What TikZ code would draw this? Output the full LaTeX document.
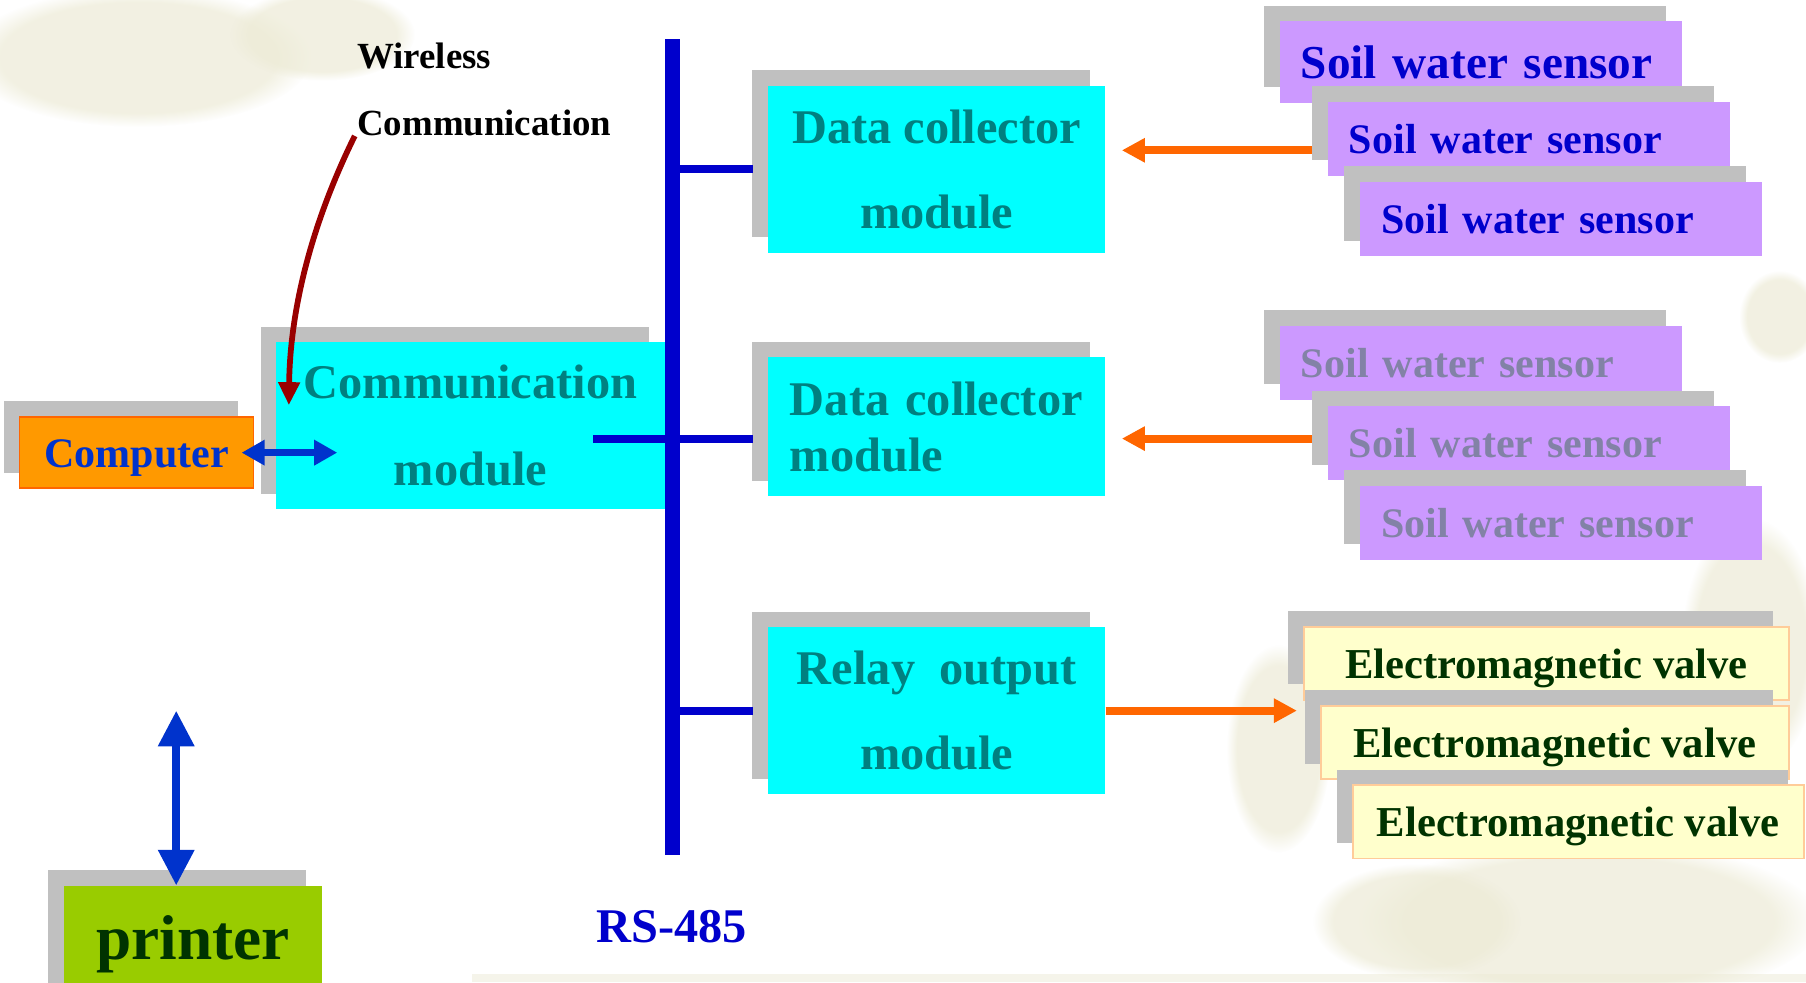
\documentclass[tikz,border=0pt]{standalone}
\usepackage{fontspec}
\setmainfont{Liberation Serif}
\usetikzlibrary{arrows.meta, shadows, fadings}

\definecolor{modcyan}{HTML}{00FFFF}
\definecolor{modtext}{HTML}{008080}
\definecolor{shadegray}{HTML}{C0C0C0}
\definecolor{sensorfill}{HTML}{CC99FF}
\definecolor{sensortext}{HTML}{0000CC}
\definecolor{sensordim}{HTML}{8282A6}
\definecolor{busblue}{HTML}{0000CC}
\definecolor{linkblue}{HTML}{0033CC}
\definecolor{feedorange}{HTML}{FF6600}
\definecolor{pcfill}{HTML}{FF9900}
\definecolor{printfill}{HTML}{99CC00}
\definecolor{darkgreen}{HTML}{003300}
\definecolor{valvefill}{HTML}{FFFFCC}
\definecolor{valveline}{HTML}{FFCC99}
\definecolor{radiored}{HTML}{990000}
\definecolor{bgtint}{HTML}{EDEBD6}

\begin{document}
\begin{tikzpicture}[
        x=1pt, y=-1pt,
        box/.style={rectangle, inner sep=0pt, general shadow={fill=shadegray, shadow xshift=-13.5pt, shadow yshift=13.5pt}},
        module/.style={box, fill=modcyan, text=modtext, align=center, minimum width=293pt, minimum height=145pt, font=\fontsize{42}{74}\selectfont\bfseries},
        sensor/.style={box, fill=sensorfill, text=sensortext, minimum height=64.5pt, inner xsep=18.5pt, text width=312pt, align=left, text height=25.5pt, text depth=0pt, font=\fontsize{36.5}{44}\selectfont\bfseries},
        valve/.style={box, fill=valvefill, draw=valveline, line width=1.5pt, text=darkgreen, minimum height=63.5pt, text height=25.5pt, text depth=0pt, font=\fontsize{37}{44}\selectfont\bfseries},
        note/.style={align=left, inner sep=0pt, text=black, font=\fontsize{32}{58}\selectfont\bfseries},
        busname/.style={fill=white, text=busblue, inner xsep=38pt, inner ysep=0pt, text width=500pt, align=left, minimum height=61pt, text height=42pt, text depth=0pt, font=\fontsize{42}{50}\selectfont\bfseries},
        bus/.style={busblue, line width=12.5pt},
        branch/.style={busblue, line width=7pt},
        feed/.style={feedorange, line width=7pt, -{Triangle[length=20pt, width=20pt]}},
        duplex/.style={linkblue, line width=6pt, {Triangle[length=20pt, width=21pt]}-{Triangle[length=20pt, width=21pt]}},
        spool/.style={linkblue, line width=7pt, {Triangle[length=31pt, width=30pt]}-{Triangle[length=31pt, width=30pt]}},
        radio/.style={radiored, line width=5pt, -{Triangle[length=20pt, width=18pt]}},
        blob/.style={bgtint, opacity=0.7, path fading=circle with fuzzy edge 20 percent}
    ]
    \useasboundingbox (0,0) rectangle (1568,853);
    \clip (0,0) rectangle (1568,853);
    \fill[white] (0,0) rectangle (1568,853);
    \fill[blob] (120,50) ellipse (150pt and 60pt);
    \fill[blob] (280,30) ellipse (80pt and 40pt);
    \fill[blob] (1380,800) ellipse (200pt and 70pt);
    \fill[blob] (1520,560) ellipse (60pt and 110pt);
    \fill[blob] (1110,650) ellipse (45pt and 90pt);
    \fill[blob] (1230,800) ellipse (90pt and 50pt);
    \fill[blob] (1545,275) ellipse (35pt and 40pt);
    \fill[bgtint, opacity=0.5] (410,846) rectangle (1568,853);

    \node[busname] (rs485) at (768,797.5) {RS-485};

    \node[box, fill=pcfill, draw=feedorange, line width=1.5pt, text=linkblue, minimum width=203pt, minimum height=62pt, text height=25pt, text depth=0pt, font=\fontsize{36.5}{44}\selectfont\bfseries] (computer) at (118.5,393) {Computer};
    \node[module, minimum width=337pt, font=\fontsize{42}{75}\selectfont\bfseries] (comm) at (408.5,369.5) {Communication\\module};
    \node[box, fill=printfill, text=darkgreen, minimum width=224pt, minimum height=101pt, font=\fontsize{55}{60}\selectfont\bfseries] (printer) at (167.4,819.5) {printer};
    \node[note, anchor=south west] (wireless) at (310,118) {Wireless\\Communication};

    \node[module] (dc1) at (813.3,147) {Data collector\\module};
    \node[module, minimum height=121pt, text width=255pt, align=left, font=\fontsize{42}{49}\selectfont\bfseries] (dc2) at (813.3,370.5) {Data collector\\module};
    \node[module] (relay) at (813.3,617) {Relay~~output\\module};

    \node[sensor, minimum height=70.4pt, text height=29pt, font=\fontsize{41}{50}\selectfont\bfseries] (s1) at (1285.5,53.8) {Soil water sensor};
    \node[sensor] (s2) at (1327.2,120.5) {Soil water sensor};
    \node[sensor] (s3) at (1355,190.3) {Soil water sensor};
    \node[sensor, text=sensordim] (s4) at (1285.5,315) {Soil water sensor};
    \node[sensor, text=sensordim] (s5) at (1327.2,384.8) {Soil water sensor};
    \node[sensor, text=sensordim] (s6) at (1355,453.9) {Soil water sensor};

    \node[valve, minimum width=421.3pt] (v1) at (1342.6,575.9) {Electromagnetic valve};
    \node[valve, minimum width=406.5pt] (v2) at (1350,644.7) {Electromagnetic valve};
    \node[valve, minimum width=391.5pt] (v3) at (1370.2,713.6) {Electromagnetic valve};

    \coordinate (bustop) at (584,34);
    \coordinate (busend) at (584,742);
    \coordinate (tap) at (515,381);
    \draw[branch, shorten >=13pt] (tap) -- (tap -| dc2.west);
    \draw[branch, shorten >=13pt] (bustop |- dc1.west) -- (dc1.west);
    \draw[branch, shorten >=13pt] (bustop |- relay.west) -- (relay.west);
    \draw[bus] (bustop) -- (busend);

    \coordinate (in1) at ([xshift=-13.5pt,yshift=-10pt]s2.west);
    \coordinate (in2) at ([xshift=-13.5pt,yshift=4pt]s5.west);
    \draw[feed, shorten >=14pt] (in1) -- (in1 -| dc1.east);
    \draw[feed, shorten >=14pt] (in2) -- (in2 -| dc2.east);
    \draw[feed, shorten >=20pt] (relay.east) -- (relay.east -| v2.west);

    \coordinate (pclink) at (computer.east -| comm.west);
    \draw[duplex] ([xshift=-11pt]computer.east) -- ([xshift=53pt]pclink);
    \coordinate (prtop) at (153,617);
    \draw[spool] (prtop) -- (prtop |- printer.north);
    \draw[radio] ([xshift=-2pt]wireless.south west) .. controls +(-38,77) and +(1,-82) .. ([xshift=11pt,yshift=-55pt]comm.north west);
\end{tikzpicture}
\end{document}
